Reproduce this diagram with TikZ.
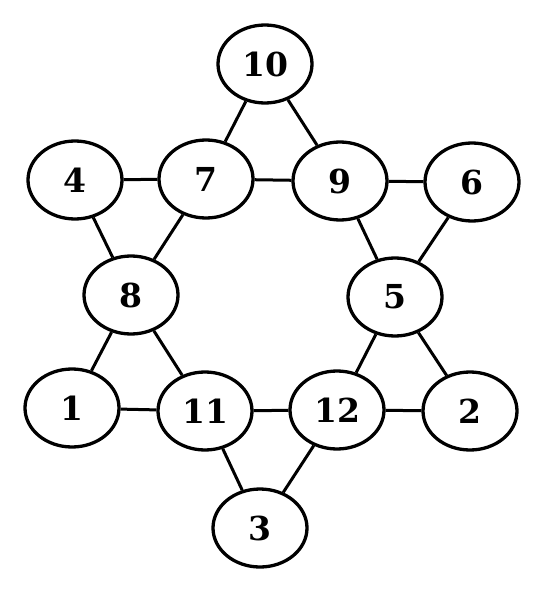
\documentclass[tikz,border=0pt]{standalone}
\usepackage{fontspec}
\newfontfamily\numfont{DejaVu Serif}
\usepackage{tikz}
\usetikzlibrary{shapes.geometric}

\begin{document}
\begin{tikzpicture}[
  x=1pt,y=-1pt,
  num/.style={draw=black,ellipse,line width=3.3pt,fill=white,
              minimum width=94pt,minimum height=78pt,inner sep=0pt,
              font=\numfont\fontsize{33}{33}\selectfont\bfseries},
  edge/.style={line width=3pt,draw=black}
]
\useasboundingbox (0,0) rectangle (550,591);
\node[num] (n10) at (265,64) {10};
\node[num] (n4) at (75,180) {4};
\node[num] (n7) at (206,179) {7};
\node[num] (n9) at (340,181) {9};
\node[num] (n6) at (472,182) {6};
\node[num] (n8) at (131,295) {8};
\node[num] (n5) at (395,297) {5};
\node[num] (n1) at (72,408) {1};
\node[num] (n11) at (205,411) {11};
\node[num] (n12) at (337,410) {12};
\node[num] (n2) at (470,411) {2};
\node[num] (n3) at (260,528) {3};
\draw[edge] (n10)--(n7);
\draw[edge] (n10)--(n9);
\draw[edge] (n4)--(n7);
\draw[edge] (n7)--(n9);
\draw[edge] (n9)--(n6);
\draw[edge] (n4)--(n8);
\draw[edge] (n7)--(n8);
\draw[edge] (n9)--(n5);
\draw[edge] (n6)--(n5);
\draw[edge] (n8)--(n1);
\draw[edge] (n8)--(n11);
\draw[edge] (n5)--(n12);
\draw[edge] (n5)--(n2);
\draw[edge] (n1)--(n11);
\draw[edge] (n11)--(n12);
\draw[edge] (n12)--(n2);
\draw[edge] (n11)--(n3);
\draw[edge] (n12)--(n3);
\end{tikzpicture}
\end{document}
